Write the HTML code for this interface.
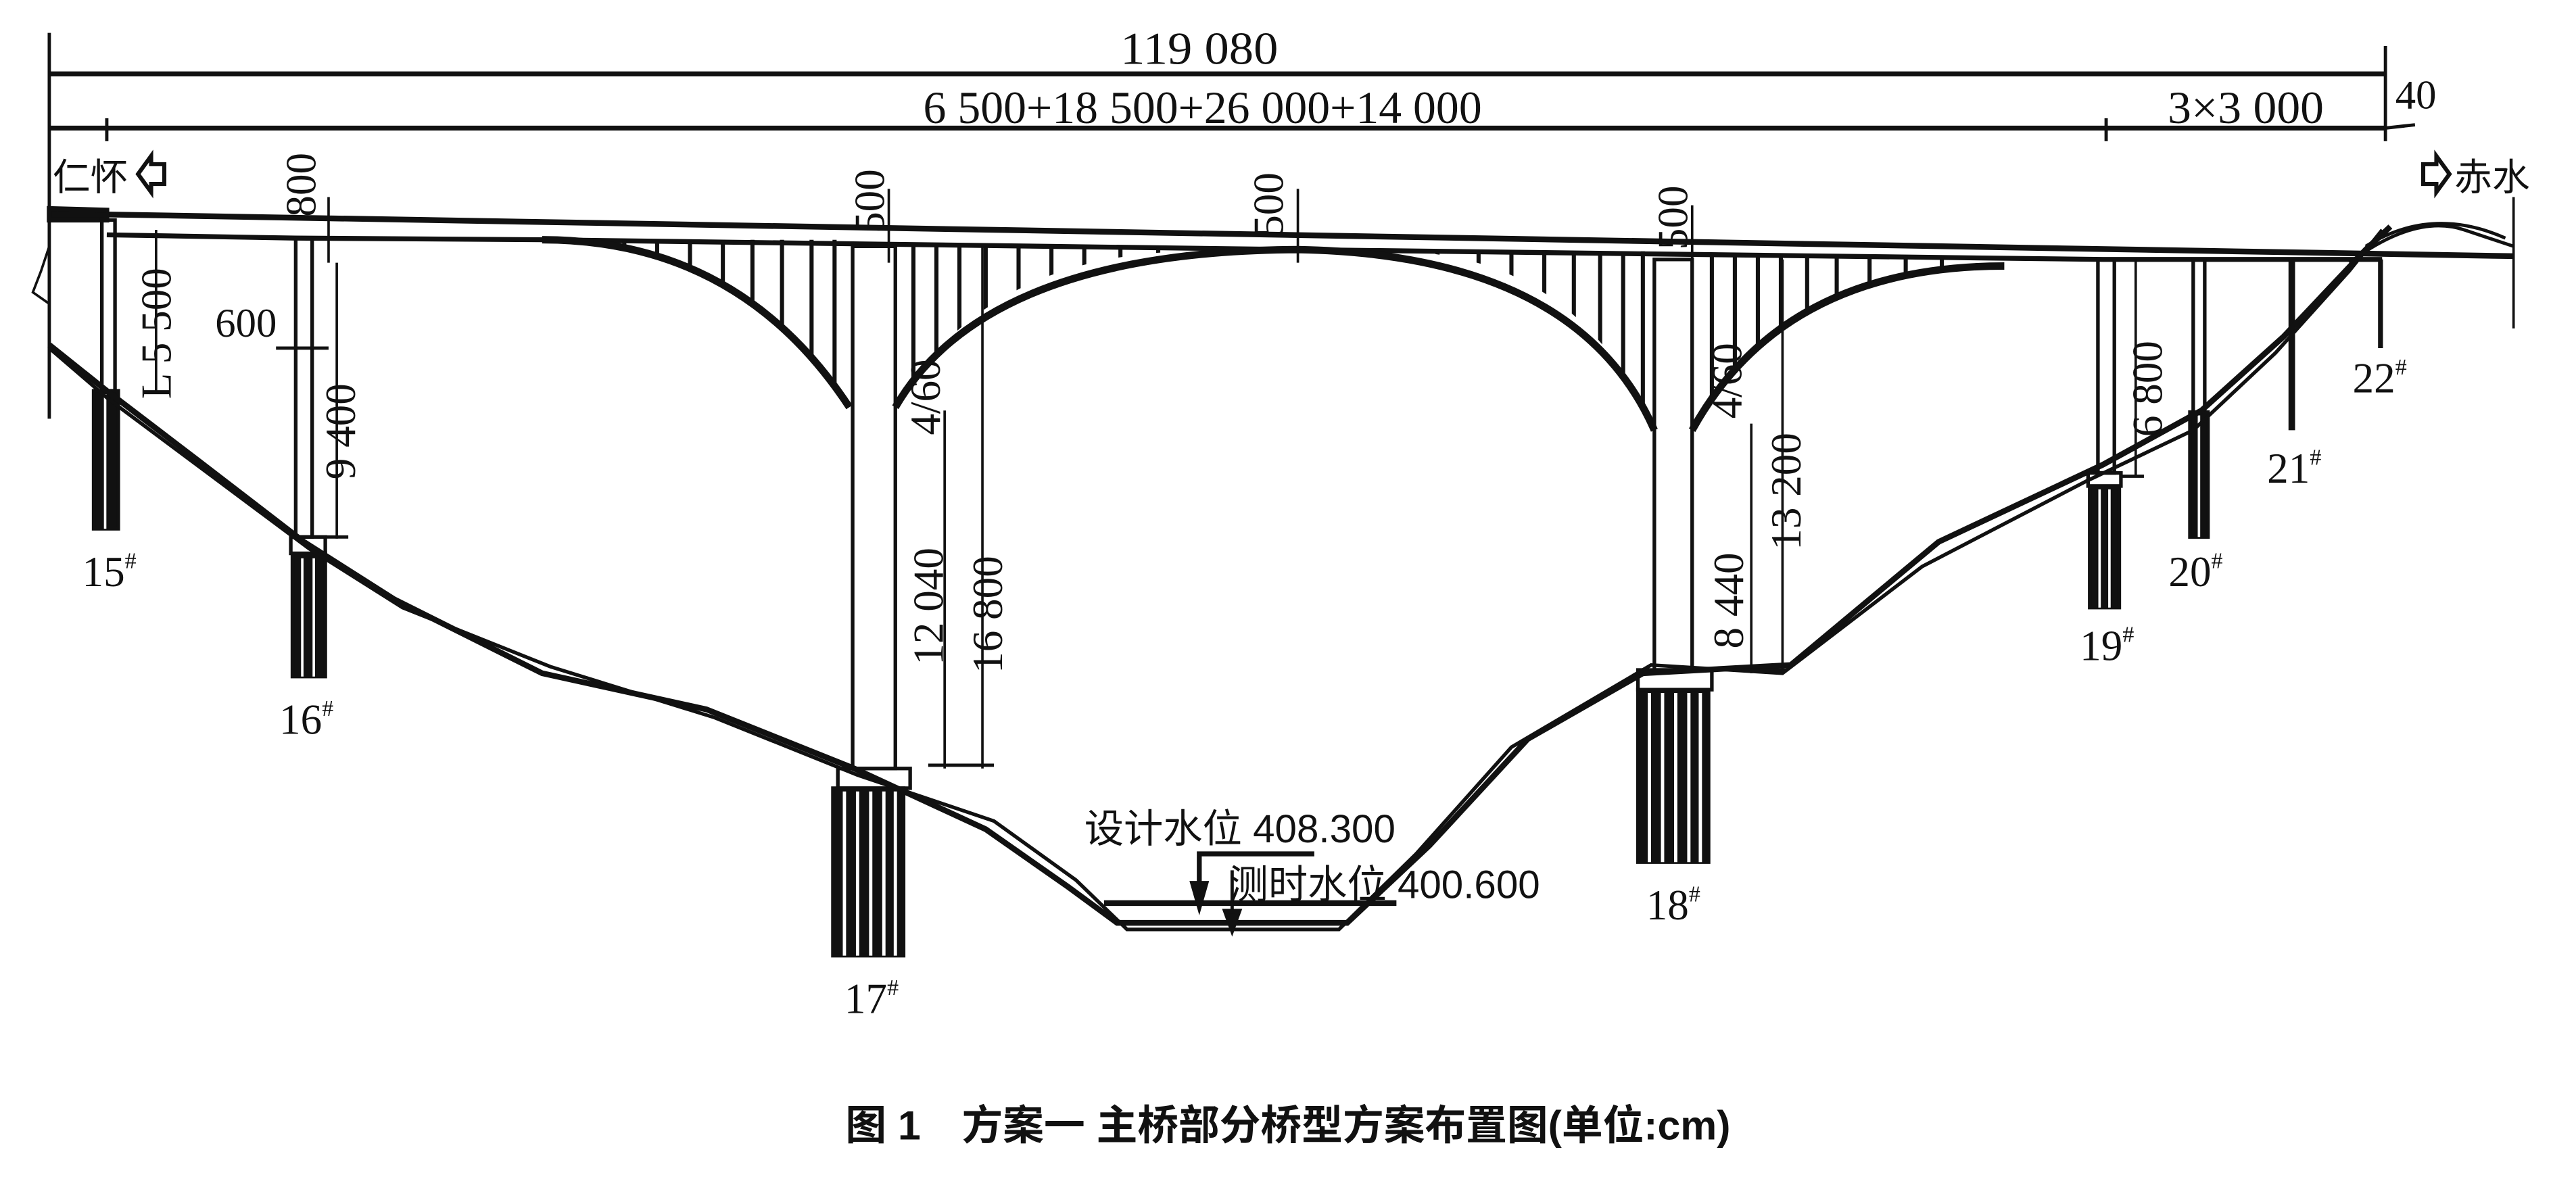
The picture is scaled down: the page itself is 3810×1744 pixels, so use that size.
<!DOCTYPE html>
<html><head><meta charset="utf-8"><style>
html,body{margin:0;padding:0;background:#fff;}
svg{display:block}
text{font-family:"Liberation Serif","Noto Serif CJK SC",serif;fill:#111}
.cn{font-family:"Liberation Sans","Noto Sans CJK SC",sans-serif}
</style></head><body>
<svg width="3810" height="1744" viewBox="0 0 1568 718" preserveAspectRatio="none" xmlns="http://www.w3.org/2000/svg">
<defs>
<clipPath id="c1"><path d="M330,146 L517,146 L517,248 Q450,146 330,146 Z"/></clipPath>
<clipPath id="c2"><path d="M545,150 L730,150 L730,153 Q600,153 545,248 Z"/></clipPath>
<clipPath id="c3"><path d="M850,153 L1007,153 L1007,262 Q960,155 850,153 Z"/></clipPath>
<clipPath id="c4"><path d="M1030,156 L1220,156 L1220,162 Q1085,162 1030,262 Z"/></clipPath>
</defs>
<g stroke="#111" fill="none" stroke-width="3">
<line x1="30" y1="20" x2="30" y2="255" stroke-width="2"/>
<line x1="30" y1="45" x2="1452" y2="45"/>
<line x1="30" y1="78" x2="1452" y2="78"/>
<line x1="1452" y1="28" x2="1452" y2="86" stroke-width="2"/>
<line x1="65" y1="72" x2="65" y2="86" stroke-width="2"/>
<line x1="1282" y1="72" x2="1282" y2="86" stroke-width="2"/>
<line x1="1452" y1="78" x2="1470" y2="76" stroke-width="2"/>
<path d="M30,130 L1530,156" stroke-width="3.5"/>
<path d="M30,127 L65,128 L65,134 L30,134 Z" fill="#111"/>
<path d="M65,143 L180,145 L330,146 L790,152 L1280,158 L1450,158" stroke-width="3"/>
<path d="M30,150 L25,165 L20,178 L30,185" stroke-width="1.5"/>
<path d="M330,146 Q450,146 517,248" stroke-width="4.5"/>
<path d="M545,248 Q600,153 790,152 Q960,155 1007,262" stroke-width="4.5"/>
<path d="M1030,262 Q1085,162 1220,162" stroke-width="4.5"/>
<g stroke-width="2.5">
<g clip-path="url(#c1)">
<line x1="360" y1="140" x2="360" y2="260"/><line x1="380" y1="140" x2="380" y2="260"/><line x1="400" y1="140" x2="400" y2="260"/><line x1="420" y1="140" x2="420" y2="260"/><line x1="440" y1="140" x2="440" y2="260"/><line x1="458" y1="140" x2="458" y2="260"/><line x1="476" y1="140" x2="476" y2="260"/><line x1="494" y1="140" x2="494" y2="260"/><line x1="508" y1="140" x2="508" y2="260"/>
</g>
<g clip-path="url(#c2)">
<line x1="556" y1="140" x2="556" y2="260"/><line x1="570" y1="140" x2="570" y2="260"/><line x1="584" y1="140" x2="584" y2="260"/><line x1="600" y1="140" x2="600" y2="260"/><line x1="620" y1="140" x2="620" y2="260"/><line x1="640" y1="140" x2="640" y2="260"/><line x1="660" y1="140" x2="660" y2="260"/><line x1="682" y1="140" x2="682" y2="260"/><line x1="705" y1="140" x2="705" y2="260"/>
</g>
<g clip-path="url(#c3)">
<line x1="875" y1="140" x2="875" y2="270"/><line x1="900" y1="140" x2="900" y2="270"/><line x1="920" y1="140" x2="920" y2="270"/><line x1="940" y1="140" x2="940" y2="270"/><line x1="958" y1="140" x2="958" y2="270"/><line x1="974" y1="140" x2="974" y2="270"/><line x1="988" y1="140" x2="988" y2="270"/><line x1="1000" y1="140" x2="1000" y2="270"/>
</g>
<g clip-path="url(#c4)">
<line x1="1042" y1="150" x2="1042" y2="270"/><line x1="1056" y1="150" x2="1056" y2="270"/><line x1="1070" y1="150" x2="1070" y2="270"/><line x1="1084" y1="150" x2="1084" y2="270"/><line x1="1100" y1="150" x2="1100" y2="270"/><line x1="1118" y1="150" x2="1118" y2="270"/><line x1="1138" y1="150" x2="1138" y2="270"/><line x1="1160" y1="150" x2="1160" y2="270"/><line x1="1182" y1="150" x2="1182" y2="270"/>
</g>
</g>
<g stroke-width="2.2">
<rect x="62" y="134" width="8" height="104"/>
<rect x="57" y="238" width="15" height="84" fill="#111"/><line x1="64" y1="240" x2="64" y2="322" stroke="#fff" stroke-width="1.5"/>
<rect x="180" y="145" width="10" height="182"/>
<rect x="177" y="327" width="21" height="10"/>
<rect x="178" y="337" width="20" height="75" fill="#111"/><line x1="184" y1="340" x2="184" y2="412" stroke="#fff" stroke-width="1.5"/><line x1="191" y1="340" x2="191" y2="412" stroke="#fff" stroke-width="1.5"/>
<rect x="519" y="150" width="26" height="318"/>
<rect x="510" y="468" width="44" height="12"/>
<rect x="507" y="480" width="43" height="102" fill="#111"/>
<line x1="514" y1="482" x2="514" y2="582" stroke="#fff" stroke-width="2"/><line x1="522" y1="482" x2="522" y2="582" stroke="#fff" stroke-width="2"/><line x1="530" y1="482" x2="530" y2="582" stroke="#fff" stroke-width="2"/><line x1="538" y1="482" x2="538" y2="582" stroke="#fff" stroke-width="2"/><line x1="545" y1="482" x2="545" y2="582" stroke="#fff" stroke-width="2"/>
<rect x="1007" y="158" width="23" height="250"/>
<rect x="997" y="408" width="45" height="12"/>
<rect x="997" y="420" width="43" height="105" fill="#111"/>
<line x1="1004" y1="422" x2="1004" y2="525" stroke="#fff" stroke-width="2"/><line x1="1012" y1="422" x2="1012" y2="525" stroke="#fff" stroke-width="2"/><line x1="1020" y1="422" x2="1020" y2="525" stroke="#fff" stroke-width="2"/><line x1="1028" y1="422" x2="1028" y2="525" stroke="#fff" stroke-width="2"/><line x1="1035" y1="422" x2="1035" y2="525" stroke="#fff" stroke-width="2"/>
<rect x="1277" y="158" width="10" height="130"/>
<rect x="1271" y="288" width="20" height="8"/>
<rect x="1272" y="296" width="18" height="74" fill="#111"/><line x1="1278" y1="298" x2="1278" y2="370" stroke="#fff" stroke-width="1.5"/><line x1="1284" y1="298" x2="1284" y2="370" stroke="#fff" stroke-width="1.5"/>
<rect x="1335" y="158" width="7" height="93"/>
<rect x="1333" y="251" width="11" height="76" fill="#111"/><line x1="1338.5" y1="253" x2="1338.5" y2="327" stroke="#fff" stroke-width="1.5"/>
<line x1="1395" y1="158" x2="1395" y2="262" stroke-width="4"/>
<line x1="1449" y1="158" x2="1449" y2="212" stroke-width="3"/>
</g>
<path d="M30,210 L65,238 L120,280 L185,330 L240,365 L330,410 L430,432 L520,468 L600,505 L650,540 L680,562 L820,562 L870,515 L930,450 L1000,410 L1090,405 L1180,330 L1280,283 L1340,250 L1390,205 L1440,152 L1455,138" stroke-width="3.5"/>
<path d="M30,212 L66,243 L125,287 L188,334 L245,370 L335,406 L435,437 L522,472 L605,500 L655,536 L686,566 L815,566 L862,520 L920,455 L1005,405 L1085,410 L1170,345 L1270,293 L1335,262 L1385,215 L1430,165 L1450,140" stroke-width="2.2"/>
<path d="M1430,160 Q1470,130 1500,140 L1530,150" stroke-width="2"/>
<path d="M1440,150 Q1480,125 1525,145" stroke-width="2"/>
<line x1="1530" y1="120" x2="1530" y2="200" stroke-width="1.5"/>
<line x1="672" y1="550" x2="850" y2="550" stroke-width="3.5"/>
<polyline points="730,545 730,520 800,520" stroke-width="3"/>
<path d="M726,538 L734,538 L730,552 Z" fill="#111"/>
<line x1="750" y1="530" x2="750" y2="562" stroke-width="2"/>
<path d="M746,555 L754,555 L750,566 Z" fill="#111"/>
<line x1="95" y1="140" x2="95" y2="240" stroke-width="1.5"/>
<line x1="200" y1="120" x2="200" y2="160" stroke-width="1.5"/>
<line x1="205" y1="160" x2="205" y2="328" stroke-width="1.5"/>
<line x1="168" y1="212" x2="200" y2="212" stroke-width="2"/>
<line x1="198" y1="327" x2="212" y2="327" stroke-width="2"/>
<line x1="541" y1="115" x2="541" y2="160" stroke-width="1.5"/>
<line x1="575" y1="250" x2="575" y2="468" stroke-width="1.5"/>
<line x1="598" y1="150" x2="598" y2="468" stroke-width="1.5"/>
<line x1="565" y1="466" x2="605" y2="466" stroke-width="2"/>
<line x1="790" y1="115" x2="790" y2="160" stroke-width="1.5"/>
<line x1="1030" y1="125" x2="1030" y2="160" stroke-width="1.5"/>
<line x1="1066" y1="258" x2="1066" y2="410" stroke-width="1.5"/>
<line x1="1085" y1="158" x2="1085" y2="410" stroke-width="1.5"/>
<line x1="1300" y1="158" x2="1300" y2="290" stroke-width="1.5"/>
<line x1="1060" y1="408" x2="1088" y2="408" stroke-width="2"/>
<line x1="1290" y1="290" x2="1305" y2="290" stroke-width="2"/>
</g>
<path d="M100,100 L92,100 L92,95 L84,106 L92,117 L92,112 L100,112 Z" fill="none" stroke="#111" stroke-width="2.5"/>
<path d="M1475,100 L1483,100 L1483,95 L1491,106 L1483,117 L1483,112 L1475,112 Z" fill="none" stroke="#111" stroke-width="2.5"/>
<text x="730" y="39" font-size="28" text-anchor="middle" textLength="96" lengthAdjust="spacingAndGlyphs">119 080</text>
<text x="732" y="75" font-size="28" text-anchor="middle" textLength="340" lengthAdjust="spacingAndGlyphs">6 500+18 500+26 000+14 000</text>
<text x="1367" y="75" font-size="28" text-anchor="middle" textLength="95" lengthAdjust="spacingAndGlyphs">3×3 000</text>
<text x="1458" y="66" font-size="25">40</text>
<text x="32" y="116" font-size="23" class="cn">仁怀</text>
<text x="1494" y="116" font-size="23" class="cn">赤水</text>
<text x="131" y="205" font-size="25">600</text>
<text x="50" y="357" font-size="26">15<tspan font-size="14" dy="-11">#</tspan></text>
<text x="170" y="447" font-size="26">16<tspan font-size="14" dy="-11">#</tspan></text>
<text x="514" y="617" font-size="26">17<tspan font-size="14" dy="-11">#</tspan></text>
<text x="1002" y="560" font-size="26">18<tspan font-size="14" dy="-11">#</tspan></text>
<text x="1266" y="402" font-size="26">19<tspan font-size="14" dy="-11">#</tspan></text>
<text x="1320" y="357" font-size="26">20<tspan font-size="14" dy="-11">#</tspan></text>
<text x="1380" y="294" font-size="26">21<tspan font-size="14" dy="-11">#</tspan></text>
<text x="1432" y="239" font-size="26">22<tspan font-size="14" dy="-11">#</tspan></text>
<text x="660" y="513" font-size="24" class="cn">设计水位 408.300</text>
<text x="748" y="547" font-size="24" class="cn">测时水位 400.600</text>
<g font-size="26">
<text transform="translate(192,132) rotate(-90)">800</text>
<text transform="translate(104,243) rotate(-90)">L 5 500</text>
<text transform="translate(216,292) rotate(-90)">9 400</text>
<text transform="translate(538,142) rotate(-90)">500</text>
<text transform="translate(572,265) rotate(-90)">4/60</text>
<text transform="translate(574,405) rotate(-90)">12 040</text>
<text transform="translate(610,410) rotate(-90)">16 800</text>
<text transform="translate(781,144) rotate(-90)">500</text>
<text transform="translate(1027,152) rotate(-90)">500</text>
<text transform="translate(1060,255) rotate(-90)">4/60</text>
<text transform="translate(1061,395) rotate(-90)">8 440</text>
<text transform="translate(1096,335) rotate(-90)">13 200</text>
<text transform="translate(1316,266) rotate(-90)">6 800</text>
</g>
<text x="784" y="694" font-size="25" font-weight="bold" text-anchor="middle" class="cn">图 1　方案一 主桥部分桥型方案布置图(单位:cm)</text>
</svg>
</body></html>
